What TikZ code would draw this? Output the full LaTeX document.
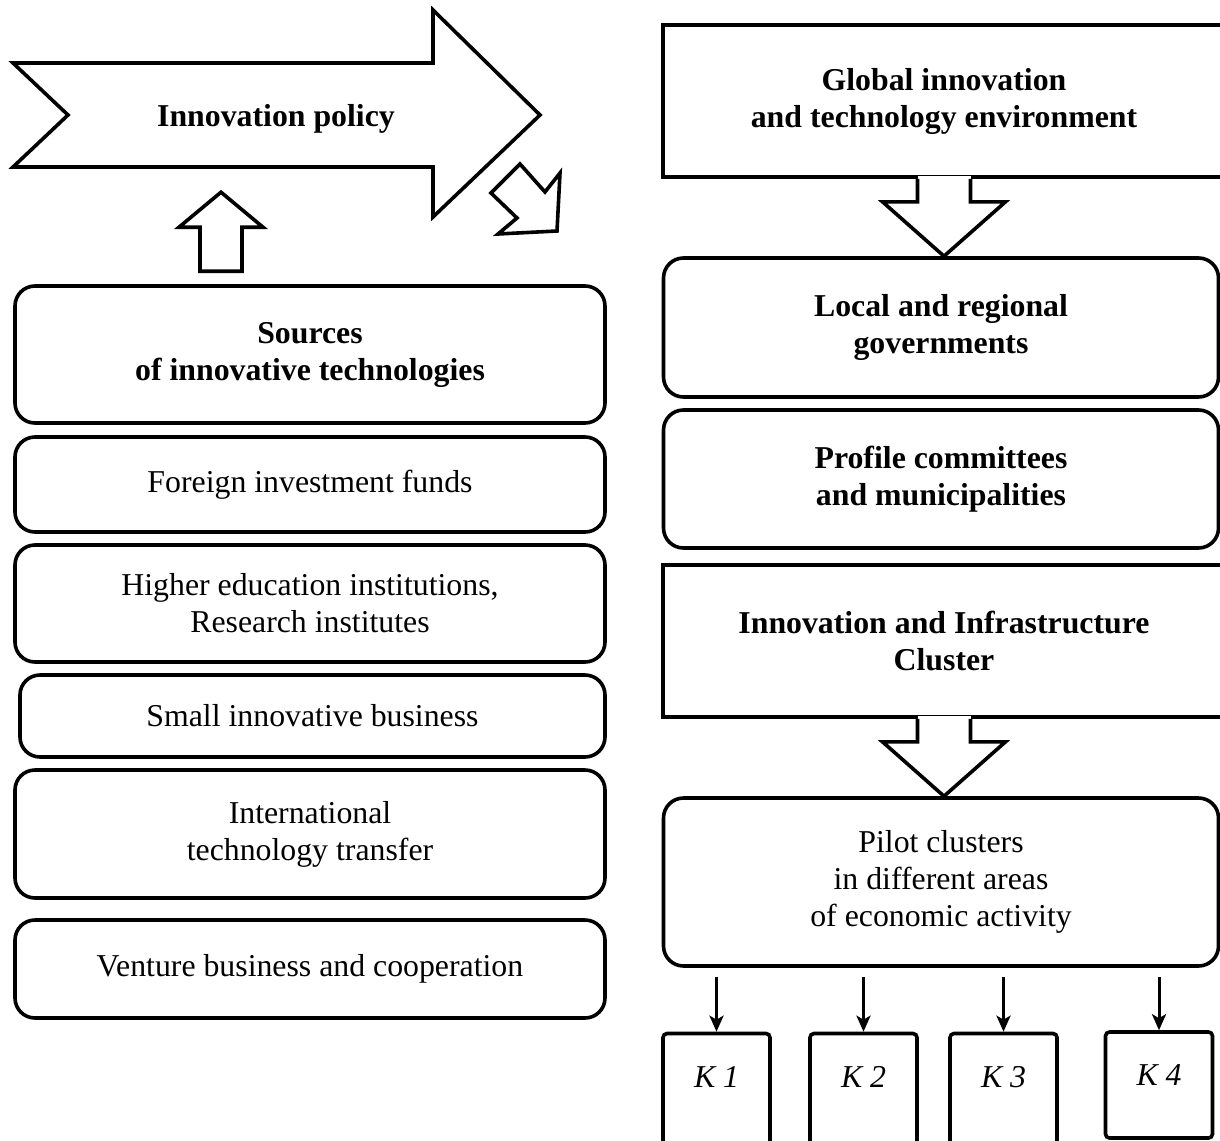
\documentclass[tikz,border=0pt]{standalone}
\usepackage{fontspec}
\setmainfont{Liberation Serif}
\usetikzlibrary{calc,arrows.meta}

\tikzset{
  srcbox/.style={draw, line width=1.8pt, rounded corners=10pt, align=center, inner sep=0pt},
  rectbox/.style={draw, line width=1.8pt, align=center, inner sep=0pt},
  blockarrow/.style={draw, line width=1.8pt, fill=white, line join=miter},
  kbox/.style={draw, line width=1.8pt, rounded corners=2pt, inner sep=0pt,
    minimum width=53.5pt},
  ktext/.style={font=\fontsize{15.9pt}{18.5pt}\selectfont\itshape},
  conn/.style={line width=1.5pt, -{Stealth[length=8pt,width=7pt,inset=2pt]},
    shorten <=4.5pt},
}

\begin{document}
\begin{tikzpicture}[x=0.5pt, y=-0.5pt, font=\fontsize{15.9pt}{18.5pt}\selectfont]

% Page
\useasboundingbox[fill=white] (0,0) rectangle (1220,1140);

% Innovation policy arrow
\draw[blockarrow] (13,63) -- (433,63) -- (433,10) -- (540,115) -- (433,217)
  -- (433,167) -- (13,167) -- (68,115) -- cycle;
\node[font=\fontsize{15.9pt}{18.5pt}\selectfont\bfseries] (policy) at (276,119) {Innovation policy};

% Small turned arrow
\draw[blockarrow] (491,193) -- (520,164) -- (545,192) -- (560,173) -- (557,231)
  -- (498,234) -- (517,218) -- cycle;

% Left column
\node[srcbox, minimum width=295pt, minimum height=68.5pt, font=\fontsize{15.9pt}{18.5pt}\selectfont\bfseries]
  (src) at (310,354.5) {Sources\\ of innovative technologies};
\node[srcbox, minimum width=295pt, minimum height=47.5pt] (fund) at (310,484.5) {Foreign investment funds};
\node[srcbox, minimum width=295pt, minimum height=58.5pt] (hei) at (310,603.5) {Higher education institutions,\\ Research institutes};
\node[srcbox, minimum width=292.5pt, minimum height=41pt] (smb) at (312.5,716) {Small innovative business};
\node[srcbox, minimum width=295pt, minimum height=64pt] (itt) at (310,834) {International\\ technology transfer};
\node[srcbox, minimum width=295pt, minimum height=49pt] (vent) at (310,969) {Venture business and cooperation};

% Up arrow
\coordinate (upfoot) at ($(src.north)+(-89,-13)$);
\draw[blockarrow] ($(upfoot)+(-21,0)$) -- ++(0,-44) -- ++(-21,0) -- ($(upfoot)+(0,-79)$)
  -- ($(upfoot)+(42,-44)$) -- ++(-21,0) -- ++(0,44) -- cycle;

% Right column
\node[rectbox, minimum width=281pt, minimum height=76pt, font=\fontsize{15.9pt}{18.5pt}\selectfont\bfseries]
  (glob) at (944,101) {Global innovation\\ and technology environment};
\node[srcbox, minimum width=277.5pt, minimum height=69.5pt, font=\fontsize{15.9pt}{18.5pt}\selectfont\bfseries]
  (local) at (941,327.5) {Local and regional\\ governments};
\node[srcbox, minimum width=277.5pt, minimum height=69pt, font=\fontsize{15.9pt}{18.5pt}\selectfont\bfseries]
  (prof) at (941,479) {Profile committees\\ and municipalities};
\node[rectbox, minimum width=281pt, minimum height=76pt, font=\fontsize{15.9pt}{18.5pt}\selectfont\bfseries]
  (iic) at (944,641) {Innovation and Infrastructure\\ Cluster};
\node[srcbox, minimum width=277.5pt, minimum height=84pt] (pilot) at (941,882)
  {Pilot clusters\\ in different areas\\ of economic activity};

% Down arrows
\fill[white] ($(glob.south)+(-26.5,-3)$) rectangle ($(glob.south)+(26.5,1)$);
\draw[blockarrow] ($(glob.south)+(-26.5,0)$) -- ++(0,23) -- ++(-35,0) -- (glob.south |- local.north)
  -- ($(glob.south)+(61.5,23)$) -- ++(-35,0) -- ++(0,-23);
\fill[white] ($(iic.south)+(-26.5,-3)$) rectangle ($(iic.south)+(26.5,1)$);
\draw[blockarrow] ($(iic.south)+(-26.5,0)$) -- ++(0,23) -- ++(-35,0) -- (iic.south |- pilot.north)
  -- ($(iic.south)+(61.5,23)$) -- ++(-35,0) -- ++(0,-23);

% Clusters
\node[kbox, minimum height=63.5pt] (k1) at (716.5,1097) {};
\node[kbox, minimum height=63.5pt] (k2) at (863.5,1097) {};
\node[kbox, minimum height=63.5pt] (k3) at (1003.5,1097) {};
\node[kbox, minimum height=53pt] (k4) at (1159,1085) {};

\node[ktext] (k1t) at ($(k1.north)+(0,45)$) {К 1};
\node[ktext] (k2t) at ($(k2.north)+(0,45)$) {К 2};
\node[ktext] (k3t) at ($(k3.north)+(0,45)$) {К 3};
\node[ktext] (k4t) at ($(k4.north)+(0,45)$) {К 4};

\foreach \k in {k1,k2,k3,k4}
  \draw[conn] (pilot.south -| \k.north) -- (\k.north);

\end{tikzpicture}
\end{document}
